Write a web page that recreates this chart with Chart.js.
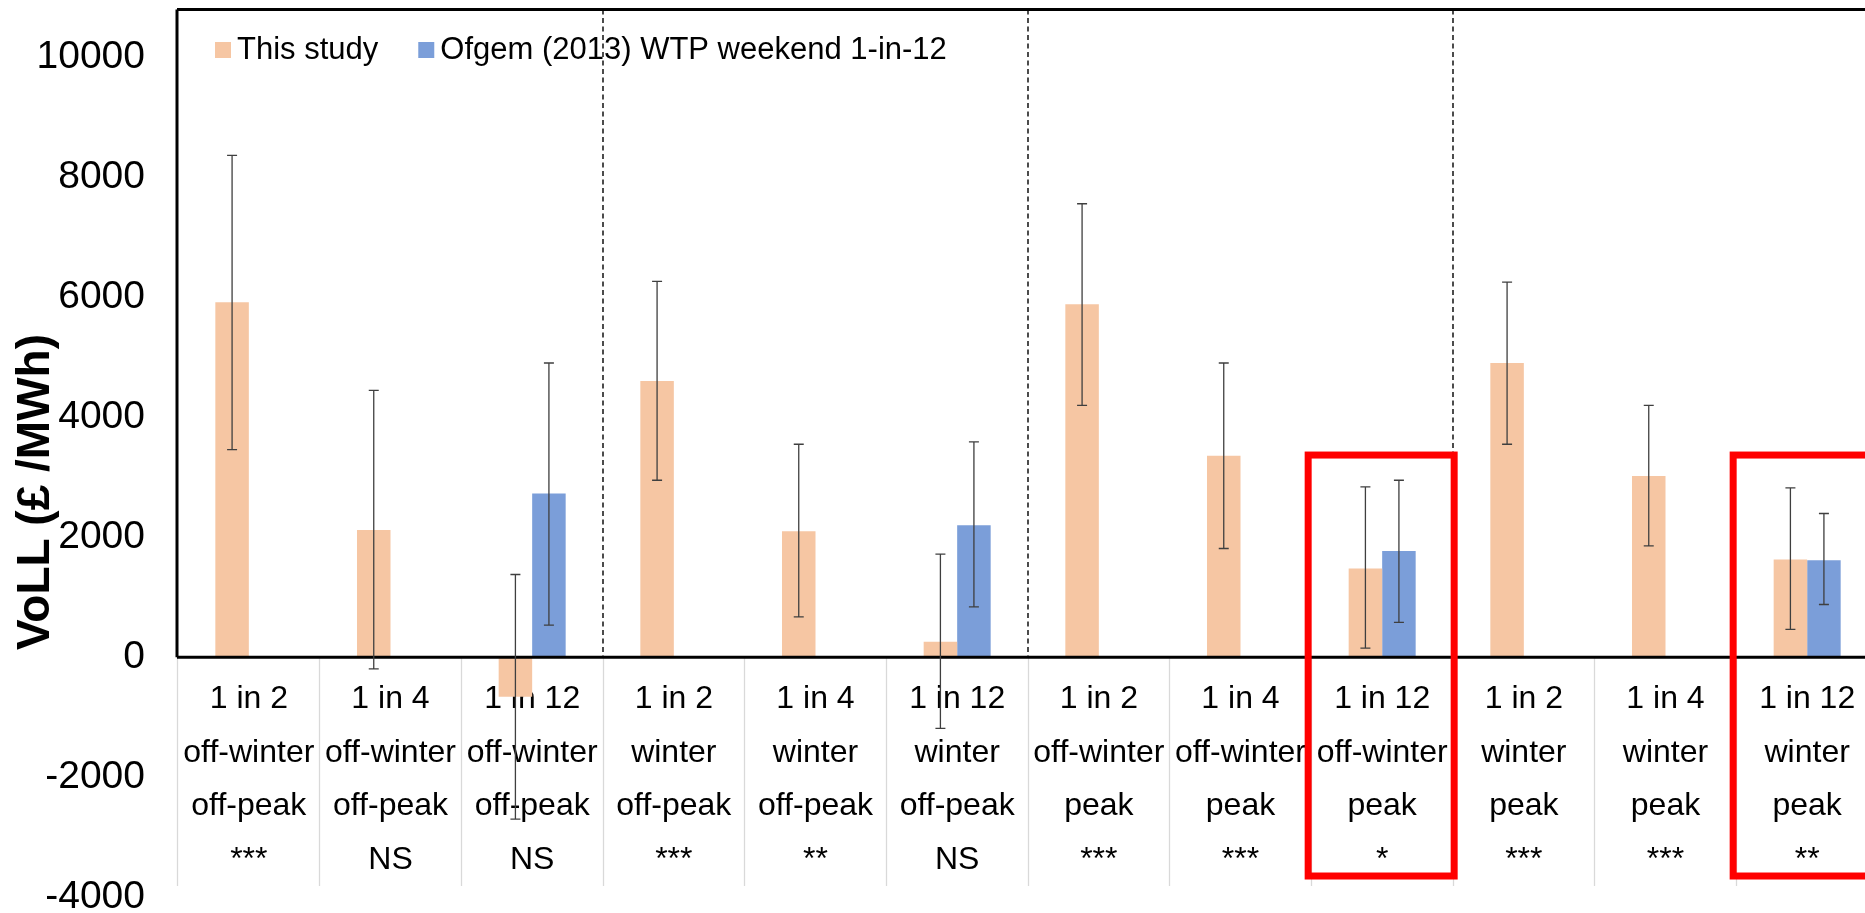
<!DOCTYPE html>
<html>
<head>
<meta charset="utf-8">
<script src="https://cdn.jsdelivr.net/npm/chart.js@4.4.1/dist/chart.umd.min.js"></script>
<style>
  html, body { margin: 0; padding: 0; background: #fff; overflow: hidden; }
  #wrap { width: 1880px; height: 913px; }
</style>
</head>
<body>
<div id="wrap"><canvas id="chart_one" width="1880" height="913"></canvas></div>
<script>

// category label lines
var frequency = ["1 in 2", "1 in 4", "1 in 12", "1 in 2", "1 in 4", "1 in 12",
                 "1 in 2", "1 in 4", "1 in 12", "1 in 2", "1 in 4", "1 in 12"];
var season = ["off-winter", "off-winter", "off-winter", "winter", "winter", "winter",
              "off-winter", "off-winter", "off-winter", "winter", "winter", "winter"];
var period = ["off-peak", "off-peak", "off-peak", "off-peak", "off-peak", "off-peak",
              "peak", "peak", "peak", "peak", "peak", "peak"];
var significance = ["***", "NS", "NS", "***", "**", "NS", "***", "***", "*", "***", "***", "**"];

// This study
var study_values = [5920, 2120, -660, 4605, 2100, 255, 5883, 3360, 1478, 4905, 3022, 1628];
var study_low = [3462, -195, -2700, 2950, 672, -1189, 4200, 1812, 150, 3550, 1855, 462];
var study_high = [8367, 4450, 1378, 6267, 3550, 1717, 7561, 4905, 2838, 6255, 4200, 2822];

// Ofgem (2013) WTP weekend 1-in-12
var ofgem_values = [null, null, 2728, null, null, 2200, null, null, 1772, null, null, 1617];
var ofgem_low = [null, null, 533, null, null, 839, null, null, 578, null, null, 878];
var ofgem_high = [null, null, 4905, null, null, 3589, null, null, 2950, null, null, 2395];

var y_ticks = [-4000, -2000, 0, 2000, 4000, 6000, 8000, 10000];

// red highlight boxes (category index, value range)
var red_box_cats = [8, 11];
var red_box_top = 3370;
var red_box_bottom = -3650;

var FONT = "'Liberation Sans', Arial, sans-serif";

var labels = frequency.map(function (f, i) {
    return [f, season[i], period[i], significance[i]];
});

var errorBars = {
    id: 'errorBars',
    afterDatasetsDraw: function (chart) {
        var ctx = chart.ctx;
        var ys = chart.scales.y;
        var lows = [study_low, ofgem_low];
        var highs = [study_high, ofgem_high];
        var area = chart.chartArea;
        var zero = ys.getPixelForValue(0);

        // frame: top, left (down to zero) and the zero line
        ctx.save();
        ctx.strokeStyle = '#000';
        ctx.lineWidth = 3;
        ctx.beginPath();
        ctx.moveTo(area.left - 1, area.top);
        ctx.lineTo(area.right, area.top);
        ctx.moveTo(area.left - 1, area.top);
        ctx.lineTo(area.left - 1, zero);
        ctx.moveTo(area.left - 1, zero);
        ctx.lineTo(area.right, zero);
        ctx.stroke();

        // dashed group separators
        var xs = chart.scales.x;
        ctx.lineWidth = 1.4;
        ctx.setLineDash([5, 3.5]);
        [2, 5, 8].forEach(function (i) {
            var bx = (xs.getPixelForValue(i) + xs.getPixelForValue(i + 1)) / 2;
            ctx.beginPath();
            ctx.moveTo(bx, area.top);
            ctx.lineTo(bx, zero);
            ctx.stroke();
        });
        ctx.setLineDash([]);

        // whiskers
        ctx.strokeStyle = '#3f3f3f';
        ctx.lineWidth = 1.3;
        [0, 1].forEach(function (d) {
            var meta = chart.getDatasetMeta(d);
            meta.data.forEach(function (bar, j) {
                if (lows[d][j] == null) return;
                var x = bar.x;
                var y1 = ys.getPixelForValue(lows[d][j]);
                var y2 = ys.getPixelForValue(highs[d][j]);
                ctx.beginPath();
                ctx.moveTo(x, y1); ctx.lineTo(x, y2);
                ctx.moveTo(x - 5, y1); ctx.lineTo(x + 5, y1);
                ctx.moveTo(x - 5, y2); ctx.lineTo(x + 5, y2);
                ctx.stroke();
            });
        });
        ctx.restore();
    },
    afterDraw: function (chart) {
        var ctx = chart.ctx;
        var area = chart.chartArea;
        var xs = chart.scales.x;
        var ys = chart.scales.y;
        ctx.save();

        // red boxes
        ctx.strokeStyle = '#ff0000';
        ctx.lineWidth = 7;
        red_box_cats.forEach(function (c) {
            var cx = xs.getPixelForValue(c);
            var top = ys.getPixelForValue(red_box_top);
            var bottom = ys.getPixelForValue(red_box_bottom);
            ctx.strokeRect(cx - 74, top, 146, bottom - top);
        });

        // legend inside the plot
        ctx.font = '31px ' + FONT;
        ctx.textBaseline = 'middle';
        ctx.fillStyle = '#000';
        var lx = area.left + 37;
        var ly = 50;
        chart.data.datasets.forEach(function (ds) {
            ctx.fillStyle = ds.backgroundColor;
            ctx.fillRect(lx, ly - 8, 16, 16);
            ctx.fillStyle = '#000';
            ctx.fillText(ds.label, lx + 22, ly);
            lx += 22 + ctx.measureText(ds.label).width + 40;
        });

        // y axis title
        ctx.translate(36, 492);
        ctx.rotate(-Math.PI / 2);
        ctx.font = 'bold 46px ' + FONT;
        ctx.textAlign = 'center';
        ctx.fillText('VoLL (£ /MWh)', 0, 0);
        ctx.restore();
    }
};

var ctx = document.getElementById('chart_one').getContext('2d');
var chart = new Chart(ctx, {
    type: 'bar',
    data: {
        labels: labels,
        datasets: [{
            label: 'This study',
            data: study_values,
            backgroundColor: '#F6C6A3',
            categoryPercentage: 0.473,
            barPercentage: 1.0
        }, {
            label: 'Ofgem (2013) WTP weekend 1-in-12',
            data: ofgem_values,
            backgroundColor: '#7B9ED9',
            categoryPercentage: 0.473,
            barPercentage: 1.0
        }]
    },
    options: {
        responsive: false,
        animation: false,
        layout: { padding: { top: 9.5, bottom: 16, left: 0, right: 2 } },
        plugins: {
            legend: { display: false },
            tooltip: { enabled: false }
        },
        scales: {
            x: {
                position: { y: 0 },
                grid: {
                    offset: true,
                    drawOnChartArea: false,
                    drawTicks: true,
                    tickLength: 229,
                    color: '#d9d9d9',
                    tickWidth: 1.3
                },
                border: { display: false },
                ticks: {
                    autoSkip: false,
                    maxRotation: 0,
                    minRotation: 0,
                    padding: -214,
                    color: '#000',
                    font: { family: FONT, size: 32, lineHeight: 1.68 }
                },
                afterFit: function (scale) {
                    scale.paddingTop = 0;
                    scale.paddingBottom = 0;
                }
            },
            y: {
                min: -4000,
                max: 10800,
                grid: { display: false, drawTicks: false },
                border: { display: false },
                ticks: {
                    stepSize: 2000,
                    padding: 33,
                    color: '#000',
                    font: { family: FONT, size: 39 },
                    callback: function (v) { return String(v); }
                },
                afterBuildTicks: function (scale) {
                    scale.ticks = y_ticks.map(function (v) { return { value: v }; });
                },
                afterFit: function (scale) {
                    scale.width = 178;
                    scale.paddingTop = 0;
                    scale.paddingBottom = 0;
                }
            }
        }
    },
    plugins: [errorBars]
});

</script>
</body>
</html>
